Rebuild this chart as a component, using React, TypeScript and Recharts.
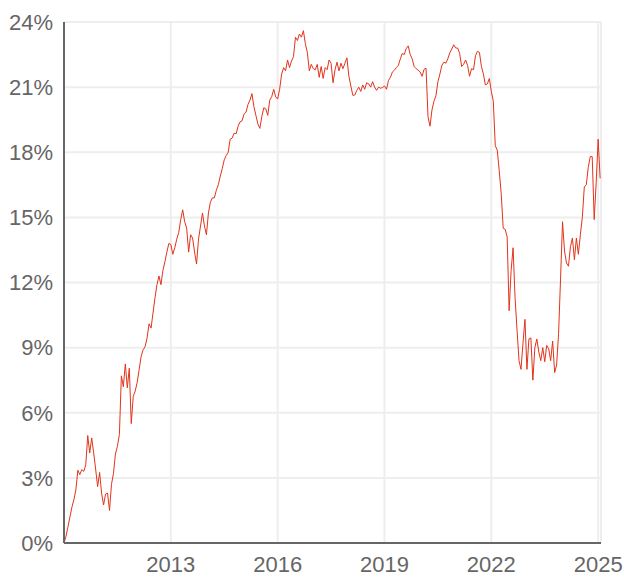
import React from 'react';
import { LineChart, Line, XAxis, YAxis, CartesianGrid } from 'recharts';

// series sampled every 1/18 of a year, starting at the beginning of 2010
const startYear = 2010;
const stepYears = 1 / 18;

const share = [
  0.0, 0.3, 0.75, 1.2, 1.65, 2.0, 2.45, 3.35, 3.15, 3.38,
  3.3, 3.6, 4.95, 4.15, 4.84, 4.15, 3.4, 2.6, 3.25, 2.3,
  1.75, 2.25, 2.3, 1.5, 2.7, 3.2, 4.1, 4.45, 5.0, 7.7,
  7.2, 8.25, 7.15, 8.05, 5.5, 6.75, 7.0, 7.4, 8.0, 8.6,
  8.9, 9.05, 9.45, 10.1, 9.9, 10.6, 11.3, 11.9, 12.3, 11.9,
  12.55, 12.95, 13.4, 13.8, 13.75, 13.3, 13.6, 14.0, 14.3, 14.9,
  15.35, 14.8, 14.5, 13.4, 14.2, 14.05, 13.4, 12.85, 14.0, 14.6,
  15.2, 14.6, 14.2, 15.2, 15.7, 15.9, 15.9, 16.25, 16.5, 16.9,
  17.25, 17.65, 17.85, 18.0, 18.6, 18.65, 18.88, 18.85, 19.2, 19.4,
  19.45, 19.75, 19.85, 20.2, 20.4, 20.7, 20.1, 19.7, 19.3, 19.1,
  19.65, 20.05, 20.0, 19.7, 20.4, 20.56, 20.9, 20.55, 20.45, 20.9,
  21.6, 21.9, 21.75, 22.25, 21.9, 22.2, 22.4, 23.3, 23.15, 23.45,
  23.3, 23.6, 23.0, 22.6, 21.75, 22.05, 21.85, 21.8, 22.05, 21.45,
  21.95, 21.4, 21.9, 21.8, 22.25, 22.1, 21.2, 21.8, 22.15, 21.75,
  22.1, 21.85, 22.1, 22.35, 21.5, 21.05, 20.62, 20.64, 20.85, 21.0,
  20.8, 21.1, 20.9, 21.2, 21.15, 21.0, 21.25, 21.0, 20.85, 21.0,
  20.95, 20.98, 21.05, 20.9, 21.3, 21.45, 21.7, 21.78, 21.9, 22.0,
  22.3, 22.55, 22.5, 22.78, 22.9, 22.5, 22.3, 21.95, 21.85, 21.78,
  21.7, 21.5, 21.82, 21.87, 19.64, 19.2, 19.95, 20.35, 20.6, 21.25,
  21.6, 22.0, 22.15, 22.1, 22.3, 22.58, 22.75, 22.95, 22.8, 22.8,
  22.55, 21.95, 22.05, 22.25, 22.0, 21.5, 21.85, 21.8, 22.45, 22.65,
  22.6, 21.95, 21.6, 21.1, 21.15, 21.4, 20.8, 20.35, 18.3, 18.1,
  17.15, 16.1, 14.5, 14.45, 14.1, 10.7, 12.55, 13.6, 11.3, 9.8,
  8.4, 8.0, 9.2, 10.3, 8.0, 9.4, 9.45, 7.5, 9.0, 9.4,
  8.8, 8.4, 9.0, 8.35, 9.1, 8.95, 8.4, 9.3, 7.85, 8.2,
  9.65, 12.2, 14.8, 13.45, 12.9, 12.75, 13.65, 14.05, 13.05, 14.05,
  13.3, 14.2, 15.0, 16.4, 16.5, 17.3, 17.8, 17.8, 14.9, 16.6,
  18.6, 16.8,
];

const yearTicks = [2013, 2016, 2019, 2022, 2025];
const percentTicks = [0, 3, 6, 9, 12, 15, 18, 21, 24];

const data = share.map((v, i) => ({ t: startYear + i * stepYears, v }));

const font = '"Liberation Sans", Arial, Helvetica, sans-serif';
const tickStyle = { fill: '#666', fontSize: 22, fontFamily: font };

export default function App() {
  return (
    // pinned to the page corner so the body margin doesn't push it around
    <div style={{ position: 'absolute', left: 0, top: 0, width: 624, height: 577, fontFamily: font }}>
      <LineChart width={624} height={577} data={data} margin={{ top: 22, right: 23, bottom: 3, left: 0 }}>
        <CartesianGrid stroke="#eeeeee" strokeWidth={2} />
        <XAxis
          dataKey="t"
          type="number"
          domain={[2010, 2025.08]}
          ticks={yearTicks}
          interval={0}
          height={31}
          tickLine={false}
          tickSize={0}
          tickMargin={13}
          axisLine={{ stroke: '#666', strokeWidth: 2 }}
          tick={tickStyle}
        />
        <YAxis
          type="number"
          domain={[0, 24]}
          ticks={percentTicks}
          interval={0}
          width={64}
          tickLine={false}
          tickSize={0}
          tickMargin={11}
          axisLine={{ stroke: '#666', strokeWidth: 2 }}
          tick={tickStyle}
          tickFormatter={(v: number) => `${v}%`}
        />
        <Line
          type="linear"
          dataKey="v"
          stroke="#e2331b"
          strokeWidth={1}
          dot={false}
          isAnimationActive={false}
        />
      </LineChart>
    </div>
  );
}
